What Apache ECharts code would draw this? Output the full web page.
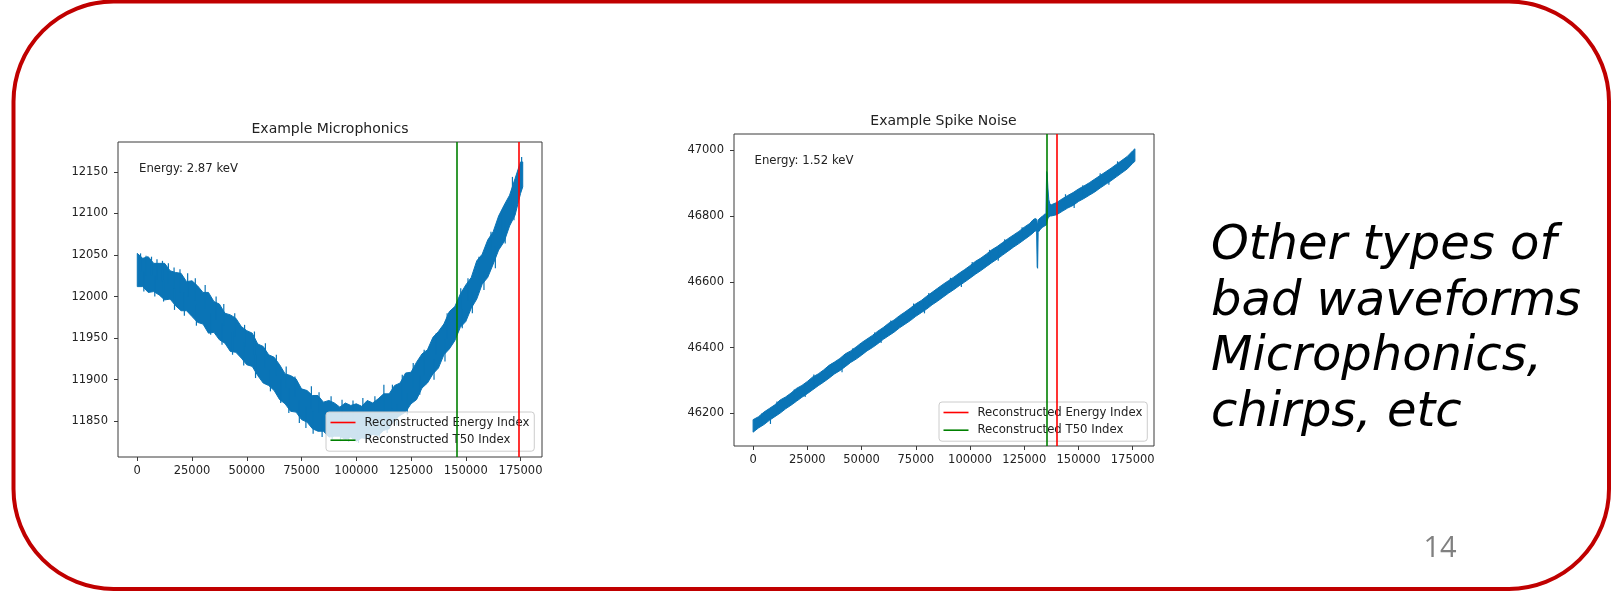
<!DOCTYPE html>
<html>
<head>
<meta charset="utf-8">
<script src="https://cdn.jsdelivr.net/npm/echarts@6/dist/echarts.min.js"></script>
<style>
html,body{margin:0;padding:0;background:#fff;}
#chart{width:1613px;height:591px;}
</style>
</head>
<body>
<div id="chart"></div>
<script>
// ---------- DATA ----------
const chartTitles = ['Example Microphonics', 'Example Spike Noise'];
const energyTexts = ['Energy: 2.87 keV', 'Energy: 1.52 keV'];
const legendNames = ['Reconstructed Energy Index', 'Reconstructed T50 Index'];
const slideLines = ['Other types of', 'bad waveforms', 'Microphonics,', 'chirps, etc'];
const pageNumber = '14';

const xTicks = [0, 25000, 50000, 75000, 100000, 125000, 150000, 175000];
const micYTicks = [11850, 11900, 11950, 12000, 12050, 12100, 12150];
const spikeYTicks = [46200, 46400, 46600, 46800, 47000];

// Microphonics waveform: envelope of the noisy trace (sample index, upper edge, lower edge)
const micX = [0,2500,5000,7500,10000,12500,15000,17500,20000,22500,25000,27500,30000,32500,35000,37500,40000,42500,45000,47500,50000,52500,55000,57500,60000,62500,65000,67500,70000,72500,75000,77500,80000,82500,85000,87500,90000,92500,95000,97500,100000,102500,105000,107500,110000,112500,115000,117500,120000,122500,125000,127500,130000,132500,135000,137500,140000,142500,145000,147500,150000,152500,155000,157500,160000,162500,165000,167500,170000,172500,175000,176000];
const micUpper = [12052,12046,12048,12040,12040,12040,12031,12029,12028,12018,12019,12013,12005,12005,11994,11991,11980,11978,11974,11964,11959,11956,11943,11940,11930,11927,11918,11907,11905,11901,11889,11887,11881,11881,11873,11875,11872,11867,11872,11869,11871,11868,11875,11872,11877,11883,11883,11893,11896,11908,11909,11921,11931,11936,11951,11958,11967,11982,11988,12003,12014,12023,12043,12051,12068,12078,12097,12110,12122,12142,12162,12162];
const micLower = [12012,12012,12005,12006,12002,11996,11997,11989,11983,11983,11976,11969,11967,11956,11957,11948,11944,11934,11933,11926,11918,11916,11905,11896,11893,11887,11876,11871,11862,11861,11852,11849,11841,11838,11838,11831,11832,11832,11828,11831,11826,11830,11829,11834,11833,11839,11841,11852,11857,11861,11871,11876,11890,11896,11907,11914,11930,11937,11947,11963,11970,11986,11997,12015,12023,12039,12056,12066,12085,12098,12124,12132];
// Microphonics: individual noise excursions beyond the envelope (sample index, high value, low value)
const micNoiseX = [1500,4000,6500,9000,11500,14200,16800,19500,23000,26500,31000,36000,39500,44500,49000,53500,58500,63500,68000,72000,79500,83000,88500,93500,98500,103000,108500,112600,116500,121000,126000,131000,136500,141500,147700,151000,156000,161500,166500,171300,175500,
  3000,8000,12000,17000,21500,27000,33500,38700,43500,48600,54000,60800,65500,69200,74000,77000,80300,84400,89000,92800,96500,101000,106000,110500,114100,118500,123300,129000,135500,140500,148400,153000,158300,163500,168000,172000];
const micNoiseHigh = [12052,12049,12048,12045,12043,12040,12035,12033,12028,12022,12014,12000,11991,11980,11966,11958,11944,11930,11916,11904,11892,11885,11880,11876,11875,11878,11880,11894,11894,11906,11920,11936,11956,11980,12010,12022,12048,12078,12104,12144,12168,
  12030,12025,12020,12010,12005,11990,11980,11968,11958,11945,11930,11912,11900,11890,11875,11868,11862,11856,11852,11850,11848,11850,11852,11856,11862,11870,11884,11905,11925,11948,11985,12005,12030,12060,12090,12110];
const micNoiseLow = [12030,12025,12025,12020,12018,12015,12010,12005,12000,11995,11985,11972,11965,11952,11940,11930,11915,11905,11890,11880,11865,11860,11855,11850,11850,11850,11855,11860,11865,11875,11890,11905,11930,11950,11985,11995,12020,12050,12075,12110,12140,
  12006,12000,11994,11984,11977,11965,11954,11942,11930,11917,11902,11886,11872,11860,11848,11842,11835,11831,11828,11826,11825,11824,11827,11830,11836,11845,11858,11882,11900,11922,11962,11980,12008,12034,12064,12092];
const micEnergyIndex = 174100;
const micT50Index = 145900;

// Spike-noise waveform envelope
const spikeX = [0,2500,5000,7500,10000,12500,15000,17500,20000,22500,25000,27500,30000,32500,35000,37500,40000,42500,45000,47500,50000,52500,55000,57500,60000,62500,65000,67500,70000,72500,75000,77500,80000,82500,85000,87500,90000,92500,95000,97500,100000,102500,105000,107500,110000,112500,115000,117500,120000,122500,125000,127500,129000,130000,130700,130950,131150,131400,132500,133500,134500,135000,135300,135550,135900,136300,136800,137500,140000,142500,145000,147500,150000,152500,155000,157500,160000,162500,165000,167500,170000,172500,175000,176000];
const spikeUpper = [46181,46190,46204,46215,46226,46241,46250,46262,46276,46285,46297,46311,46320,46332,46346,46356,46367,46381,46390,46402,46415,46426,46437,46450,46461,46474,46484,46497,46508,46520,46533,46543,46556,46568,46580,46592,46603,46614,46626,46637,46649,46662,46672,46684,46697,46707,46719,46731,46742,46753,46766,46777,46788,46792,46790,46780,46770,46788,46795,46800,46806,46806,46935,46930,46885,46850,46836,46834,46841,46852,46862,46871,46882,46891,46901,46912,46923,46934,46945,46957,46969,46981,46998,47004];
const spikeLower = [46143,46156,46166,46179,46190,46201,46214,46225,46237,46249,46260,46272,46284,46295,46307,46320,46330,46342,46355,46365,46377,46390,46400,46412,46425,46436,46447,46460,46471,46482,46495,46506,46517,46530,46541,46553,46565,46576,46588,46599,46611,46623,46634,46646,46658,46669,46681,46693,46705,46716,46728,46740,46748,46755,46752,46645,46641,46750,46760,46766,46770,46772,46776,46785,46792,46796,46800,46800,46804,46814,46824,46832,46844,46853,46863,46873,46885,46896,46907,46919,46931,46943,46960,46966];
const spikeNoiseX = [4000,11000,19000,28000,36500,46000,56000,63500,74000,81000,91000,101000,109000,116000,124000,144000,152000,160000,168000,8000,24000,41000,59000,79000,96000,113000,148000,164000];
const spikeNoiseHigh = [46200,46236,46273,46318,46352,46398,46446,46482,46534,46566,46612,46660,46697,46729,46766,46866,46893,46930,46966,46200,46285,46360,46450,46540,46620,46700,46860,46930];
const spikeNoiseLow = [46170,46205,46240,46285,46320,46365,46412,46450,46500,46530,46578,46626,46662,46695,46730,46830,46860,46895,46930,46168,46250,46325,46414,46504,46584,46664,46824,46895];
const spikeEnergyIndex = 139900;
const spikeT50Index = 135250;

// ---------- STYLE ----------
const BLUE = '#0a74b6';
const RED = '#ff0000';
const GREEN = '#008000';
const FONT = 'DejaVu Sans';
const TXT = '#222222';
const FRAME = '#3a3a3a';

const chart = echarts.init(document.getElementById('chart'), null, {renderer: 'canvas'});

function bandSeries(idx, xs, up, lo) {
  const rows = xs.map((x, i) => [x, up[i], lo[i]]);
  return {
    type: 'custom', name: 'waveform' + idx,
    xAxisIndex: idx, yAxisIndex: idx,
    data: rows, clip: true, silent: true,
    encode: {x: 0, y: [1, 2]}, z: 2,
    renderItem: function (params, api) {
      if (params.dataIndex !== 0) return;
      const pts = [];
      for (let i = 0; i < rows.length; i++) pts.push(api.coord([rows[i][0], rows[i][1]]));
      for (let i = rows.length - 1; i >= 0; i--) pts.push(api.coord([rows[i][0], rows[i][2]]));
      return {type: 'polygon', shape: {points: pts}, style: {fill: BLUE, stroke: BLUE, lineWidth: 1}};
    }
  };
}

function noiseSeries(idx, xs, hi, lo, width) {
  const rows = xs.map((x, i) => [x, hi[i], lo[i]]);
  return {
    type: 'custom', name: 'noise' + idx,
    xAxisIndex: idx, yAxisIndex: idx,
    data: rows, clip: true, silent: true,
    encode: {x: 0, y: [1, 2]}, z: 2,
    renderItem: function (params, api) {
      const a = api.coord([api.value(0), api.value(1)]);
      const b = api.coord([api.value(0), api.value(2)]);
      return {type: 'line', shape: {x1: a[0], y1: a[1], x2: b[0], y2: b[1]}, style: {stroke: BLUE, lineWidth: width}};
    }
  };
}

function vlineSeries(name, idx, value, color) {
  return {
    type: 'line', name: name, xAxisIndex: idx, yAxisIndex: idx, data: [],
    color: color, itemStyle: {color: color}, lineStyle: {color: color},
    symbol: 'none', z: 3,
    markLine: {
      silent: true, symbol: ['none', 'none'], label: {show: false},
      lineStyle: {color: color, width: 1.6, type: 'solid'},
      emphasis: {disabled: true},
      data: [{xAxis: value}]
    }
  };
}

function xAxisOpt(idx) {
  return {
    type: 'value', gridIndex: idx, min: -8800, max: 184800, position: 'bottom',
    axisLine: {show: false, onZero: false}, splitLine: {show: false},
    axisTick: {show: true, length: 4, inside: false, customValues: xTicks, lineStyle: {color: FRAME, width: 1}},
    axisLabel: {customValues: xTicks, margin: 8, color: TXT, fontSize: 11.5, fontFamily: FONT, formatter: v => String(v)}
  };
}
function yAxisOpt(idx, min, max, ticks) {
  return {
    type: 'value', gridIndex: idx, min: min, max: max, position: 'left',
    axisLine: {show: false, onZero: false}, splitLine: {show: false},
    axisTick: {show: true, length: 4, inside: false, customValues: ticks, lineStyle: {color: FRAME, width: 1}},
    axisLabel: {customValues: ticks, margin: 10, color: TXT, fontSize: 11.5, fontFamily: FONT, formatter: v => String(v)}
  };
}
function legendOpt(left, top) {
  return {
    orient: 'vertical', left: left, top: top,
    data: [
      {name: legendNames[0], itemStyle: {color: RED, borderWidth: 0}},
      {name: legendNames[1], itemStyle: {color: GREEN, borderWidth: 0}}
    ],
    icon: 'rect', itemWidth: 25, itemHeight: 1.6, itemGap: 3.7,
    selectedMode: false,
    backgroundColor: 'rgba(255,255,255,0.8)', borderColor: '#cccccc', borderWidth: 1, borderRadius: 3,
    padding: [3.5, 5, 4, 4.5],
    textStyle: {color: TXT, fontSize: 11.7, fontFamily: FONT, lineHeight: 14, padding: [0, 0, 0, 4]}
  };
}

const option = {
  animation: false,
  backgroundColor: '#ffffff',
  grid: [
    {left: 118, top: 142, width: 424, height: 315, show: true, borderColor: FRAME, borderWidth: 1, backgroundColor: 'transparent', containLabel: false},
    {left: 734, top: 134, width: 420, height: 312, show: true, borderColor: FRAME, borderWidth: 1, backgroundColor: 'transparent', containLabel: false}
  ],
  xAxis: [xAxisOpt(0), xAxisOpt(1)],
  yAxis: [yAxisOpt(0, 11807, 12186, micYTicks), yAxisOpt(1, 46101, 47049, spikeYTicks)],
  legend: [legendOpt(326, 412), legendOpt(939, 402)],
  series: [
    bandSeries(0, micX, micUpper, micLower),
    noiseSeries(0, micNoiseX, micNoiseHigh, micNoiseLow, 1.2),
    vlineSeries(legendNames[0], 0, micEnergyIndex, RED),
    vlineSeries(legendNames[1], 0, micT50Index, GREEN),
    bandSeries(1, spikeX, spikeUpper, spikeLower),
    noiseSeries(1, spikeNoiseX, spikeNoiseHigh, spikeNoiseLow, 1.2),
    vlineSeries(legendNames[0], 1, spikeEnergyIndex, RED),
    vlineSeries(legendNames[1], 1, spikeT50Index, GREEN)
  ],
  graphic: [
    {type: 'rect', shape: {x: 13.5, y: 1.5, width: 1595.5, height: 587.5, r: 100}, style: {fill: 'none', stroke: '#c00000', lineWidth: 4}, silent: true},
    {type: 'text', x: 330, y: 129, style: {text: chartTitles[0], fontSize: 14, fontFamily: FONT, fill: TXT, align: 'center', verticalAlign: 'middle'}},
    {type: 'text', x: 943.5, y: 121.7, style: {text: chartTitles[1], fontSize: 14, fontFamily: FONT, fill: TXT, align: 'center', verticalAlign: 'middle'}},
    {type: 'text', x: 139, y: 169, z: 10, style: {text: energyTexts[0], fontSize: 11.7, fontFamily: FONT, fill: TXT, align: 'left', verticalAlign: 'middle'}},
    {type: 'text', x: 754.5, y: 161.3, z: 10, style: {text: energyTexts[1], fontSize: 11.7, fontFamily: FONT, fill: TXT, align: 'left', verticalAlign: 'middle'}},
    {type: 'text', x: 1211, y: 219, style: {text: slideLines.join('\n'), fontSize: 48, fontStyle: 'italic', fontFamily: FONT, lineHeight: 55.5, fill: '#000000', align: 'left', verticalAlign: 'top'}},
    {type: 'text', x: 1440, y: 549, style: {text: pageNumber, fontSize: 29, fontFamily: 'Open Sans', fill: '#808080', align: 'center', verticalAlign: 'middle'}}
  ]
};
chart.setOption(option);
</script>
</body>
</html>
